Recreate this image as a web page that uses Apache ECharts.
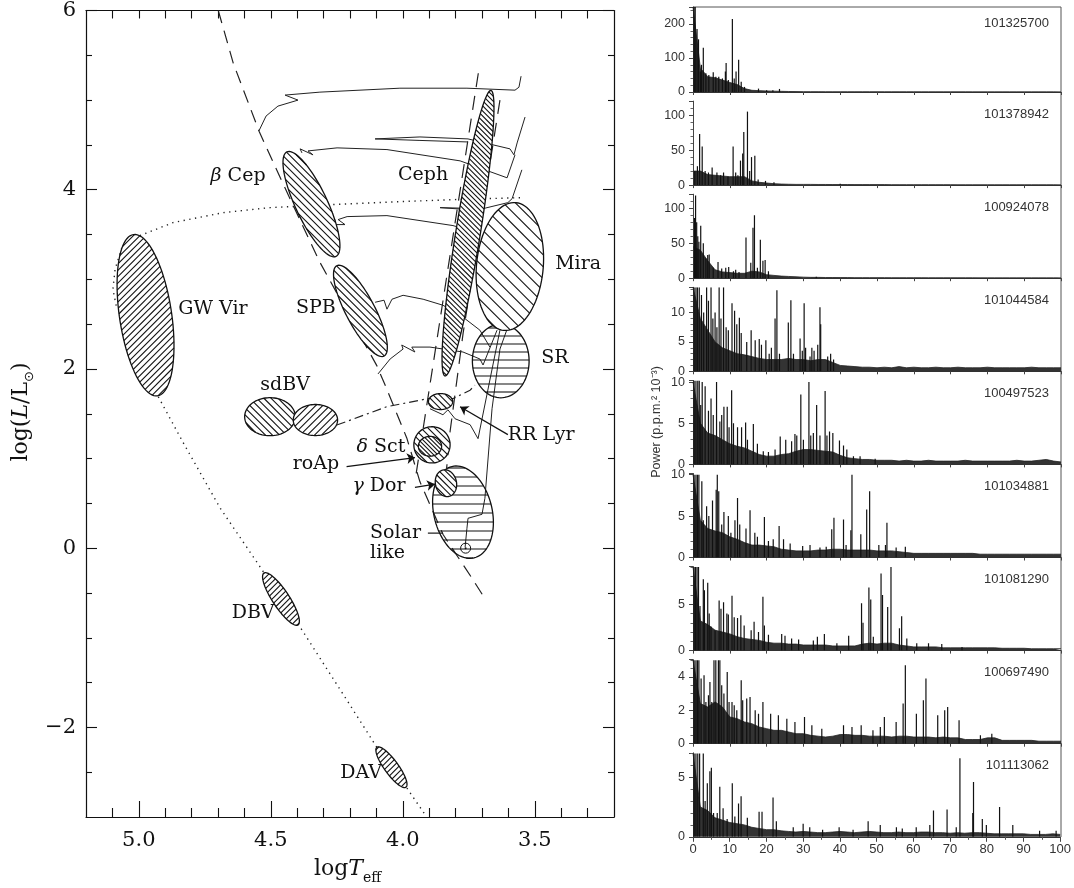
<!DOCTYPE html>
<html>
<head>
<meta charset="utf-8">
<title>Pulsating stars in the HR diagram and CoRoT power spectra</title>
<script src="https://cdn.jsdelivr.net/npm/echarts@6/dist/echarts.min.js"></script>
<style>
  html, body { margin: 0; padding: 0; background: #fff; overflow: hidden; }
  #chart { width: 1074px; height: 888px; }
</style>
</head>
<body>
<div id="chart"></div>
<script>
// ---------- left panel: HR diagram (log Teff, log L/Lsun) ----------
var tempTicks = [3.5, 4.0, 4.5, 5.0];
var lumTicks = [-2, 0, 2, 4, 6];

var zams = [[4.699,6.0],[4.642,5.41],[4.544,4.65],[4.459,4.10],[4.314,3.19],[4.099,2.04],[4.067,1.82],[3.985,1.23],[3.935,0.74],[3.847,0.15],[3.739,-0.33],[3.696,-0.53]];
var blueEdge = [[3.714,5.30],[3.954,0.744]];
var redEdge = [[3.632,5.00],[3.771,2.41],[3.821,1.30],[3.834,0.89]];
var postAgb = [[3.556,3.911],[3.783,3.892],[4.011,3.867],[4.249,3.837],[4.503,3.80],[4.681,3.744],[4.870,3.633],[4.995,3.489],[5.064,3.356],[5.090,3.111],[5.098,2.889],[5.083,2.667]];
var wdCooling = [[4.926,1.689],[4.834,1.189],[4.692,0.448],[4.547,-0.181],[4.392,-0.867],[4.211,-1.70],[4.099,-2.219],[3.988,-2.663],[3.910,-2.997]];
var horizBranch = [[4.250,1.374],[4.061,1.578],[3.903,1.670],[3.809,1.670],[3.745,1.763],[3.727,1.819]];

var trackA = [[4.545,4.656],[4.518,4.822],[4.473,4.933],[4.397,5.0],[4.446,5.056],[4.314,5.089],[4.011,5.133],[3.757,5.133],[3.575,5.111],[3.560,5.144],[3.552,5.267]];
var trackB = [[3.753,4.533],[3.935,4.55],[4.105,4.567],[3.935,4.589],[3.753,4.567],[3.594,4.456],[3.579,4.389],[3.567,4.522],[3.537,4.811]];
var trackC = [[4.382,4.411],[4.389,4.456],[4.340,4.389],[4.359,4.433],[4.249,4.467],[4.060,4.448],[3.783,4.322],[3.605,4.133],[3.575,4.389]];
var trackD = [[4.257,3.667],[4.257,3.611],[4.219,3.611],[4.245,3.667],[4.211,3.7],[4.060,3.711],[3.810,3.6],[3.745,3.544]];
var loopD = [[3.696,3.767],[3.859,3.8],[3.696,3.789],[3.602,3.856],[3.586,3.9],[3.549,4.222]];
var trackE = [[4.105,2.744],[4.071,2.767],[4.060,2.667],[4.041,2.778],[3.999,2.822],[3.923,2.778],[3.848,2.711],[3.772,2.578],[3.708,2.433],[3.670,2.244]];
var trackF = [[4.094,1.944],[4.048,2.111],[3.999,2.222],[4.004,2.267],[3.954,2.189],[3.966,2.244],[3.897,2.244],[3.772,2.189],[3.708,2.111],[3.696,2.044],[3.643,2.433]];
var trackG = [[3.897,1.556],[3.848,1.489],[3.829,1.544],[3.802,1.444],[3.745,1.378],[3.715,1.222],[3.632,2.433]];
var sunTrack = [[3.764,0.011],[3.757,0.222],[3.753,0.333],[3.700,0.378],[3.689,0.556],[3.662,1.556],[3.632,2.222],[3.605,2.444]];
var sun = [3.762, 0.0];

// regions: ends of the long axis [T1, L1, T2, L2] and width / length ratio
var regionNames = ['GW Vir','DBV','DAV','β Cep','SPB','sdBV a','sdBV b','SR','Solar-like','Mira','Ceph','RR Lyr','δ Sct','roAp','γ Dor'];
var regionAxes = [
  [5.02,3.50,4.929,1.70],
  [4.526,-0.278,4.397,-0.856],
  [4.098,-2.222,3.988,-2.667],
  [4.439,4.422,4.253,3.256],
  [4.250,3.152,4.071,2.144],
  [4.599,1.467,4.407,1.467],
  [4.415,1.43,4.247,1.43],
  [3.629,2.50,3.629,1.678],
  [3.814,0.911,3.730,-0.108],
  [3.572,3.856,3.617,2.430],
  [3.666,5.108,3.840,1.922],
  [3.903,1.636,3.811,1.636],
  [3.905,1.35,3.874,0.956],
  [3.941,1.137,3.853,1.137],
  [3.848,0.872,3.825,0.578]
];
var regionWidth = [0.32,0.27,0.28,0.276,0.285,0.75,0.70,0.77,0.62,0.52,0.085,0.66,1.0,0.85,0.78];

var labelText = ['β Cep','Ceph','Mira','GW Vir','SPB','SR','sdBV','RR Lyr','δ Sct','roAp','γ Dor','Solar','like','DBV','DAV'];
var labelPos = [[4.624,4.156],[3.923,4.167],[3.336,3.167],[4.719,2.667],[4.329,2.678],[3.424,2.122],[4.446,1.822],[3.602,1.267],[4.083,1.133],[4.329,0.933],[4.090,0.689],[4.124,0.167],[4.124,-0.056],[4.567,-0.722],[4.158,-2.511]];
var arrows = [
  [[4.213,0.911],[3.954,1.011]],
  [[3.954,0.678],[3.878,0.714]],
  [[3.602,1.267],[3.783,1.578]]
];
var solarDash = [[3.905,0.167],[3.848,0.167]];

// ---------- right panel: power spectra ----------
var starIds = ['101325700','101378942','100924078','101044584','100497523','101034881','101081290','100697490','101113062'];
var panelMax = [250,120,120,14.3,10.2,10.15,9.05,5.03,7.05];
var panelStep = [100,50,50,5,5,5,5,2,5];
var panelMinor = [5,5,5,5,5,5,5,4,5];

// background level, one value per 2 units of frequency (0, 2, ... 100)
var env1 = [250,70,45,42,35,28,22,10,5,4, 3,2.5,2,1.5,1.2,1,1,1,0.8,0.8, 0.8,0.8,0.8,0.8,0.8,0.8,0.7,0.7,0.7,0.7, 0.7,0.6,0.6,0.6,0.6,0.6,0.6,0.6,0.5,0.5, 0.5,0.5,0.5,0.5,0.5,0.5,0.5,0.5,0.5,0.5, 0.5];
var env2 = [20,20,15,14,13,12,12,12,6,4, 3,2,1.5,1.2,1,1,1,0.9,0.9,0.8, 0.8,0.8,0.7,0.7,0.7,0.7,0.7,0.6,0.6,0.6, 0.6,0.6,0.6,0.6,0.6,0.6,0.5,0.5,0.5,0.5, 0.5,0.5,0.5,0.5,0.5,0.5,0.5,0.5,0.5,0.5, 0.5];
var env3 = [45,40,25,12,9,8,7,7,10,9, 5,4,3,2.5,2,1.5,1.2,1.2,1,1, 0.9,0.9,0.8,0.8,0.8,0.8,0.8,0.7,0.7,0.7, 0.7,0.7,0.6,0.6,0.6,0.6,0.6,0.6,0.6,0.5, 0.5,0.5,0.5,0.5,0.5,0.5,0.5,0.5,0.5,0.5, 0.5];
var env4 = [14.3,9,7,5,4,3.5,3,2.8,2.5,2.2, 2,2,2,2.2,2,2,1.8,2,2,1.5, 1,0.9,0.8,0.7,0.7,0.6,0.7,0.6,0.8,0.6, 0.7,0.6,0.6,0.7,0.6,0.6,0.7,0.6,0.6,0.6, 0.7,0.6,0.6,0.6,0.6,0.6,0.7,0.6,0.6,0.6, 0.6];
var env5 = [10,5,3.8,3.5,3,2.5,2.2,2,1.6,1.2, 1,1,1.2,1.3,1.6,1.8,1.8,1.7,1.6,1.5, 1.1,0.8,0.7,0.6,0.6,0.5,0.5,0.5,0.4,0.5, 0.4,0.4,0.5,0.4,0.4,0.4,0.4,0.5,0.4,0.4, 0.4,0.4,0.4,0.4,0.5,0.4,0.4,0.5,0.6,0.4, 0.3];
var env6 = [10,4.5,3.5,3.2,3,2.5,2.2,1.8,1.5,1.5, 1.4,1.3,1,0.9,0.8,0.8,0.8,0.9,0.9,1, 1,0.9,0.9,0.9,0.9,0.8,0.8,0.8,0.7,0.6, 0.5,0.5,0.5,0.5,0.5,0.5,0.5,0.5,0.5,0.4, 0.4,0.4,0.4,0.4,0.4,0.4,0.4,0.4,0.4,0.4, 0.4];
var env7 = [9,3.2,2.8,2.2,2,1.8,1.5,1.3,1.2,1.1, 0.9,0.8,0.8,0.7,0.7,0.6,0.6,0.6,0.6,0.5, 0.5,0.5,0.5,0.7,0.8,0.7,0.8,0.8,0.6,0.5, 0.4,0.4,0.4,0.4,0.3,0.3,0.3,0.3,0.3,0.3, 0.3,0.3,0.25,0.25,0.25,0.25,0.2,0.2,0.2,0.2, 0.2];
var env8 = [5,2.4,2.2,2.5,2.2,1.6,1.5,1.3,1.2,1, 0.9,0.8,0.8,0.7,0.6,0.6,0.5,0.45,0.4,0.45, 0.55,0.55,0.5,0.5,0.45,0.45,0.45,0.4,0.45,0.45, 0.4,0.4,0.4,0.35,0.4,0.35,0.35,0.25,0.25,0.25, 0.35,0.35,0.2,0.2,0.2,0.2,0.2,0.15,0.15,0.15, 0.15];
var env9 = [7,2.5,2.2,1.6,1.4,1.2,1.1,1,0.8,0.7, 0.6,0.6,0.5,0.45,0.4,0.45,0.4,0.35,0.35,0.4, 0.45,0.4,0.35,0.4,0.45,0.4,0.35,0.35,0.4,0.35, 0.35,0.4,0.4,0.35,0.35,0.3,0.35,0.3,0.35,0.35, 0.3,0.25,0.25,0.25,0.25,0.25,0.2,0.2,0.2,0.25, 0.2];

// individual peaks [frequency, power]
var peaks1 = [[0.3,250],[0.6,250],[1.1,185],[1.5,155],[2.0,60],[2.3,80],[2.8,130],[3.5,55],[4.3,50],[5.5,58],[6.2,45],[7.0,45],[8.0,40],[8.8,60],[9.0,85],[9.6,35],[10.7,215],[11.2,40],[11.7,60],[12.4,95],[13.1,30],[14.0,15],[17.8,10],[20.0,5],[21.7,5],[23.5,9]];
var peaks2 = [[0.5,20],[1.2,27],[1.8,73],[2.5,55],[3.3,20],[4.2,18],[5.2,25],[6.5,18],[7.5,14],[8.3,18],[9.5,12],[10.9,55],[11.6,18],[12.2,14],[12.9,35],[13.5,45],[13.8,76],[14.8,105],[15.4,20],[15.9,40],[16.8,42],[17.7,8],[19.7,6],[22,4],[40,2]];
var peaks3 = [[0.4,86],[0.7,118],[1.0,80],[1.3,60],[1.6,52],[2.1,75],[2.8,50],[3.5,28],[4.0,33],[4.4,34],[5.5,15],[6.8,23],[7.8,14],[8.9,15],[9.7,16],[11.0,10],[11.6,12],[12.5,9],[14.4,58],[15.7,22],[16.3,72],[16.7,90],[17.5,15],[18.3,55],[19.0,25],[19.6,26],[20.5,10],[33.5,2]];
var peaks4 = [[0.3,14.3],[0.8,14.3],[1.2,14.3],[1.7,14.3],[2.3,13],[2.9,10],[3.7,14.3],[4.2,12],[4.9,14.3],[5.4,9],[6.0,10],[6.5,7.5],[7.1,14.3],[7.6,9],[8.3,14.3],[9.0,7.5],[9.6,7],[10.6,11.6],[11.3,10.3],[11.9,8],[12.6,9.1],[13.1,6.5],[14.6,5],[15.8,7],[16.9,5.3],[18.0,5.5],[18.6,4.5],[19.8,5.3],[20.7,3],[21.3,4],[22.3,9],[22.8,13.8],[23.5,3],[25.9,8.3],[26.6,12.1],[27.3,3],[29.1,5.6],[29.7,3.5],[30.2,11.6],[30.6,4],[31.8,2.5],[32.3,4],[32.9,3.5],[33.9,4.5],[34.5,10.9],[34.7,8],[36.6,2.5],[37.4,3],[38.2,2]];
var peaks5 = [[0.3,10.2],[0.8,10.2],[1.3,10.2],[1.7,10.2],[2.1,7.2],[2.5,10],[3.3,9.5],[4.2,6.5],[4.9,8],[5.5,6],[6.4,10],[7.3,5.2],[7.8,6],[8.4,7],[9.3,7],[9.8,4.5],[10.5,9],[11.0,5],[12.1,4.5],[13.2,4.5],[14.3,5.1],[14.8,3],[16.4,4.9],[17.5,2.5],[19.1,1.6],[20.5,1.5],[22.3,1.8],[23.7,3.4],[25.2,3.0],[26.8,2.8],[27.7,3.7],[28.2,3.5],[29.3,8.5],[30.0,3],[31.5,10],[32.0,3.5],[32.7,3.8],[33.6,7.2],[34.5,3.5],[35.9,8.9],[36.4,3.5],[37.1,4],[38.0,3.8],[39.8,2.9],[40.9,2.3],[41.8,1.8],[43.6,1],[45.4,1],[49.5,0.7]];
var peaks6 = [[0.3,10],[0.8,10],[1.2,10],[1.6,10],[2.4,9.2],[2.8,4.5],[3.7,6.2],[4.3,5],[5.3,6.9],[6.3,8.2],[6.6,10],[7.0,8],[7.8,4],[8.4,5.5],[9.6,5],[10.3,3],[11.4,4.5],[12.1,7.2],[12.7,4],[14.4,3.5],[15.5,5.7],[16.8,3],[17.5,2.5],[19.4,4.9],[20.5,2],[21.8,2.2],[23.4,3.8],[24.6,2.2],[26.4,1.7],[29.8,1.4],[31.8,1.5],[34.5,1.2],[36.2,1.3],[37.7,3.4],[38.3,4.8],[40.9,4.6],[41.6,1.5],[42.9,3.3],[43.2,10],[45.6,2.8],[47.2,5.8],[48.0,8],[50.5,1.5],[52.3,1.5],[52.7,4.2],[55.2,1.2],[57.7,1.3]];
var peaks7 = [[0.3,9],[0.7,9],[1.1,9],[1.5,9],[1.9,4.8],[2.8,7.7],[3.1,6.5],[4.0,7.3],[4.4,4],[4.9,2.6],[6.0,2.2],[7.1,5.4],[7.6,4.5],[8.3,5.2],[9.2,4],[9.6,3.9],[10.6,5.9],[11.2,3.6],[12.1,3.5],[13.0,3.8],[13.9,2.7],[15.8,2.2],[16.6,3.1],[17.8,2],[19.0,5.8],[19.4,2.7],[20.5,1.7],[24.1,1.8],[25.0,1.6],[26.8,1.3],[28.7,1.2],[32.7,1.1],[33.8,1.5],[35.7,1.8],[39.1,0.8],[42.3,1.6],[45.8,5.1],[46.2,3],[47.8,6.8],[48.3,5.5],[49.0,1.5],[51.1,8.3],[51.5,6],[52.9,4.7],[53.8,9],[56.1,2.4],[56.7,3.7],[58.1,1.3],[60.8,0.8],[64.0,0.8],[67.6,0.7],[73.1,0.4]];
var peaks8 = [[0.3,5],[0.8,5],[1.2,5],[1.6,5],[2.2,3.9],[3.0,4.1],[3.5,2.5],[4.2,2.9],[4.6,3.7],[5.1,2.5],[5.7,5],[6.2,5],[6.9,5],[7.3,5],[7.8,3.5],[8.4,3],[9.3,4.3],[9.8,2.5],[10.6,2.5],[11.2,2.3],[11.9,2],[13.1,3.8],[13.5,2.6],[14.6,2.7],[15.5,2.8],[16.9,2.0],[17.8,1.8],[19.0,2.5],[21.1,1.8],[23.2,1.7],[25.5,1.5],[27.7,1.3],[30.3,1.6],[32.3,1.1],[35.0,0.9],[40.9,1.1],[43.2,1.0],[45.7,1.1],[48.9,0.8],[50.9,1.0],[52.0,1.6],[55.2,1.3],[57.1,2.4],[57.7,4.7],[60.7,1.8],[62.6,2.6],[63.3,3.9],[66.5,1.7],[68.4,2.0],[69.2,2.2],[72.3,1.4],[78.1,0.5],[81.2,0.6]];
var peaks9 = [[0.3,7],[0.8,7],[1.3,7],[1.8,7],[2.8,7],[3.3,3],[3.9,4.5],[4.6,5.5],[5.0,5.8],[5.6,2],[6.6,2],[7.3,4.2],[8.2,2.4],[9.3,1.5],[10.7,4.5],[11.4,1.7],[12.4,2.8],[13.1,3.4],[14.8,1.6],[18.0,2.1],[18.8,2.1],[21.8,3.3],[22.7,1.3],[27.3,0.8],[30.0,1.1],[31.8,0.8],[35.3,0.6],[39.8,0.8],[43.6,0.6],[47.7,1.3],[51.0,1.0],[55.4,0.8],[57.0,0.7],[60.8,0.8],[64.5,1.0],[65.5,2.2],[69.2,2.3],[71.7,0.8],[72.7,6.6],[76.2,2.0],[76.4,4.6],[78.8,1.5],[79.9,1.0],[83.5,2.5],[87.1,1.0],[94.4,0.5],[98.9,0.5]];

var envs = [env1, env2, env3, env4, env5, env6, env7, env8, env9];
var peaks = [peaks1, peaks2, peaks3, peaks4, peaks5, peaks6, peaks7, peaks8, peaks9];

// ---------- styles ----------
var serif = '"DejaVu Serif", "Liberation Serif", serif';
var sans = '"Liberation Sans", Arial, sans-serif';
var ink = '#111';

// hatch direction, spacing in px, see-through
var hatchStyle = {
  'GW Vir': ['/', 4.5], 'DBV': ['/', 4], 'DAV': ['/', 4],
  'β Cep': ['\\', 5], 'SPB': ['\\', 5], 'sdBV a': ['\\', 5], 'sdBV b': ['/', 5],
  'SR': ['-', 8, true], 'Solar-like': ['-', 9, true],
  'Mira': ['\\', 8.5], 'Ceph': ['\\', 3.6], 'RR Lyr': ['\\', 4.5],
  'δ Sct': ['\\', 5], 'roAp': ['\\', 3], 'γ Dor': ['\\', 4.5]
};

// chords cut from an ellipse by parallel hatch lines
function hatchChords(cx, cy, a, b, ux, uy, dir, gap) {
  var nx, ny;
  if (dir === '-') { nx = 0; ny = 1; }
  else if (dir === '\\') { nx = Math.SQRT1_2; ny = -Math.SQRT1_2; }
  else { nx = Math.SQRT1_2; ny = Math.SQRT1_2; }
  var vx = -uy, vy = ux;
  var A = a * (nx * ux + ny * uy), B = b * (nx * vx + ny * vy);
  var R = Math.sqrt(A * A + B * B), phi = Math.atan2(B, A), nc = nx * cx + ny * cy;
  function pt(t) {
    return [cx + a * Math.cos(t) * ux + b * Math.sin(t) * vx, cy + a * Math.cos(t) * uy + b * Math.sin(t) * vy];
  }
  var out = [];
  for (var k = Math.ceil((nc - R) / gap); k * gap < nc + R; k++) {
    var r = (k * gap - nc) / R;
    if (r >= 0.999 || r <= -0.999) continue;
    var d = Math.acos(r);
    out.push([pt(phi + d), pt(phi - d)]);
  }
  return out;
}

// ---------- left panel axes ----------
var tempMinor = [], tempAll = [];
for (var k = 33; k <= 51; k++) {
  tempAll.push(k / 10);
  if (k % 5 !== 0) tempMinor.push(k / 10);
}
var lumMinor = [];
for (var h = -5; h <= 11; h++) {
  if (h % 4 !== 0) lumMinor.push(h / 2);
}
function fmtTemp(v) { return (+v).toFixed(1); }
function fmtLum(v) { return v < 0 ? '\u2212' + (-v) : String(v); }

function hrAxis(kind, pos, ticks, len, lab, line) {
  var o = {
    gridIndex: 0, type: 'value', position: pos,
    axisLine: { show: line, onZero: false, lineStyle: { color: ink, width: 1.2 } },
    axisTick: { show: true, inside: true, length: len, customValues: ticks.slice(), lineStyle: { color: ink, width: 1.1 } },
    axisLabel: { show: lab, customValues: ticks.slice(), margin: kind === 'x' ? 13 : 10, fontFamily: serif, fontSize: 21, color: ink,
      formatter: kind === 'x' ? fmtTemp : fmtLum },
    splitLine: { show: false }
  };
  if (kind === 'x') { o.min = 3.2; o.max = 5.2; o.inverse = true; } else { o.min = -3; o.max = 6; }
  return o;
}

var grids = [{ left: 86, top: 7, width: 528, height: 810 }];
var xAxes = [
  hrAxis('x', 'bottom', tempTicks, 16, true, true),
  hrAxis('x', 'bottom', tempMinor, 9, false, false),
  hrAxis('x', 'top', tempAll, 8, false, true)
];
var yAxes = [
  hrAxis('y', 'left', lumTicks, 11, true, true),
  hrAxis('y', 'left', lumMinor, 6, false, false),
  hrAxis('y', 'right', lumTicks, 11, false, true),
  hrAxis('y', 'right', lumMinor, 6, false, false)
];
var nLX = xAxes.length, nLY = yAxes.length;

// ---------- right panel grids and axes ----------
function zeroY(i) { return 92 + 93.1 * i; }
function addPanel(i) {
  var panelTop = i === 0 ? 7 : zeroY(i) - 84;
  var last = i === 8;
  grids.push({ left: 693, width: 368, top: panelTop, height: zeroY(i) - panelTop });
  xAxes.push({
    gridIndex: 1 + i, type: 'value', min: 0, max: 100, interval: 10,
    axisLine: { show: true, onZero: false, lineStyle: { color: '#333', width: 1 } },
    axisTick: { show: true, length: last ? 5 : 3, lineStyle: { color: '#444' } },
    minorTick: { show: last, splitNumber: 2, length: 3, lineStyle: { color: '#555' } },
    axisLabel: { show: last, margin: 6, fontFamily: sans, fontSize: 13, color: '#333' },
    splitLine: { show: false }
  });
  yAxes.push({
    gridIndex: 1 + i, type: 'value', min: 0, max: panelMax[i], interval: panelStep[i],
    axisLine: { show: true, onZero: false, lineStyle: { color: '#444', width: 1 } },
    axisTick: { show: true, length: 4, lineStyle: { color: '#444' } },
    minorTick: { show: true, splitNumber: panelMinor[i], length: 2.5, lineStyle: { color: '#666' } },
    axisLabel: { margin: 8, fontFamily: sans, fontSize: 12.5, color: '#333', showMaxLabel: false },
    splitLine: { show: false }
  });
}
for (var p = 0; p < 9; p++) addPanel(p);

// ---------- series ----------
function path(data, type, width) {
  return { type: 'line', xAxisIndex: 0, yAxisIndex: 0, data: data, symbol: 'none', silent: true, z: 2,
    lineStyle: { color: '#222', width: width, type: type } };
}
var series = [
  path(zams, [13, 8], 1.2),
  path(blueEdge, [14, 9], 1.2),
  path(redEdge, [14, 9], 1.2),
  path(postAgb, [1.3, 4.5], 1.4),
  path(wdCooling, [1.3, 4.5], 1.4),
  path(horizBranch, [9, 4, 2, 4], 1.2),
  path(trackA, 'solid', 1), path(trackB, 'solid', 1), path(trackC, 'solid', 1),
  path(trackD, 'solid', 1), path(loopD, 'solid', 1), path(trackE, 'solid', 1),
  path(trackF, 'solid', 1), path(trackG, 'solid', 1), path(sunTrack, 'solid', 1),
  {
    type: 'custom', xAxisIndex: 0, yAxisIndex: 0, z: 3, silent: true,
    data: regionAxes.map(function (r, j) { return r.concat([regionWidth[j]]); }),
    renderItem: function (params, api) {
      var name = regionNames[params.dataIndex];
      var st = hatchStyle[name];
      var p1 = api.coord([api.value(0), api.value(1)]);
      var p2 = api.coord([api.value(2), api.value(3)]);
      var dx = p2[0] - p1[0], dy = p2[1] - p1[1];
      var a = Math.sqrt(dx * dx + dy * dy) / 2, b = a * api.value(4);
      var ux = dx / (2 * a), uy = dy / (2 * a);
      var cx = (p1[0] + p2[0]) / 2, cy = (p1[1] + p2[1]) / 2;
      var pts = [];
      for (var n = 0; n < 90; n++) {
        var t = 2 * Math.PI * n / 90, c = Math.cos(t), s = Math.sin(t);
        pts.push([cx + a * c * ux - b * s * uy, cy + a * c * uy + b * s * ux]);
      }
      var kids = [];
      if (!st[2]) kids.push({ type: 'polygon', shape: { points: pts }, style: { fill: '#fff' } });
      hatchChords(cx, cy, a, b, ux, uy, st[0], st[1]).forEach(function (seg) {
        kids.push({ type: 'line', shape: { x1: seg[0][0], y1: seg[0][1], x2: seg[1][0], y2: seg[1][1] },
          style: { stroke: '#111', lineWidth: 1.1 } });
      });
      kids.push({ type: 'polygon', shape: { points: pts }, style: { fill: null, stroke: ink, lineWidth: 1.3 } });
      return { type: 'group', children: kids };
    }
  },
  {
    type: 'custom', xAxisIndex: 0, yAxisIndex: 0, z: 6, silent: true, data: [sun],
    renderItem: function (params, api) {
      var c = api.coord([api.value(0), api.value(1)]);
      return { type: 'group', children: [
        { type: 'circle', shape: { cx: c[0], cy: c[1], r: 5 }, style: { fill: null, stroke: ink, lineWidth: 1 } },
        { type: 'circle', shape: { cx: c[0], cy: c[1], r: 1 }, style: { fill: ink } }
      ] };
    }
  },
  {
    type: 'lines', coordinateSystem: 'cartesian2d', xAxisIndex: 0, yAxisIndex: 0, z: 4, silent: true,
    symbol: ['none', 'arrow'], symbolSize: 8,
    lineStyle: { color: ink, width: 1.2, opacity: 1 },
    data: arrows.map(function (c) { return { coords: c }; })
  },
  path(solarDash, 'solid', 1.3),
  {
    type: 'custom', xAxisIndex: 0, yAxisIndex: 0, z: 7, silent: true, data: labelPos,
    renderItem: function (params, api) {
      var txt = labelText[params.dataIndex];
      var c = api.coord([api.value(0), api.value(1)]);
      var leftAl = txt === 'RR Lyr' || txt === 'Solar' || txt === 'like';
      var greek = /^[βγδ]/.test(txt);
      return { type: 'text', x: c[0], y: c[1], style: {
        text: greek ? '{g|' + txt.charAt(0) + '}' + txt.slice(1) : txt,
        font: '19px ' + serif, fill: ink,
        align: leftAl ? 'left' : 'center', verticalAlign: 'middle',
        rich: { g: { font: 'italic 19px ' + serif, fill: ink } }
      } };
    }
  }
];

envs.forEach(function (env, q) {
  series.push({
    type: 'line', xAxisIndex: nLX + q, yAxisIndex: nLY + q, symbol: 'none', silent: true, z: 2,
    data: env.map(function (v, k) { return [2 * k, v]; }),
    lineStyle: { color: '#222', width: 0.8 },
    areaStyle: { color: '#333', opacity: 1 }
  });
  series.push({
    type: 'custom', xAxisIndex: nLX + q, yAxisIndex: nLY + q, silent: true, z: 3, clip: true,
    data: peaks[q],
    renderItem: function (params, api) {
      var f = api.value(0), pw = Math.min(api.value(1), panelMax[q]);
      var t = api.coord([f, pw]), b = api.coord([f, 0]);
      return { type: 'line', shape: { x1: t[0], y1: b[1], x2: t[0], y2: t[1] },
        style: { stroke: '#111', lineWidth: 1.2 } };
    }
  });
});

// ---------- titles and frame ----------
var graphics = [
  { type: 'polyline', shape: { points: [[693, 7], [1061, 7], [1061, 837]] }, style: { stroke: '#555', lineWidth: 1, fill: null }, silent: true },
  { type: 'text', x: 657, y: 422, rotation: Math.PI / 2, silent: true,
    style: { text: 'Power (p.p.m.\u00b2 10\u207b\u00b3)', font: '12.5px ' + sans, fill: '#333', align: 'center', verticalAlign: 'middle' } },
  { type: 'text', x: 21, y: 412, rotation: Math.PI / 2, silent: true,
    style: { text: '{n|log(}{i|L}{n|/L}{s|\u2299}{n|)}', align: 'center', verticalAlign: 'middle',
      rich: { n: { font: '22px ' + serif, fill: ink, lineHeight: 30 },
              i: { font: 'italic 22px ' + serif, fill: ink, lineHeight: 30 },
              s: { font: '13px "DejaVu Sans", sans-serif', fill: ink, lineHeight: 30, verticalAlign: 'bottom' } } } },
  { type: 'text', x: 363, y: 869, silent: true,
    style: { text: '{n|log}{i|T}', align: 'right', verticalAlign: 'middle',
      rich: { n: { font: '22px ' + serif, fill: ink }, i: { font: 'italic 22px ' + serif, fill: ink } } } },
  { type: 'text', x: 363, y: 878, silent: true,
    style: { text: 'eff', font: '14px ' + serif, fill: ink, align: 'left', verticalAlign: 'middle' } }
];
starIds.forEach(function (id, j) {
  graphics.push({ type: 'text', x: 1049, y: j === 0 ? 23 : zeroY(j - 1) + 22, silent: true,
    style: { text: id, font: '13px ' + sans, fill: '#333', align: 'right', verticalAlign: 'middle' } });
});

var chart = echarts.init(document.getElementById('chart'), null, { renderer: 'canvas' });
chart.setOption({
  animation: false,
  backgroundColor: '#fff',
  grid: grids,
  xAxis: xAxes,
  yAxis: yAxes,
  graphic: graphics,
  series: series
});
</script>
</body>
</html>
